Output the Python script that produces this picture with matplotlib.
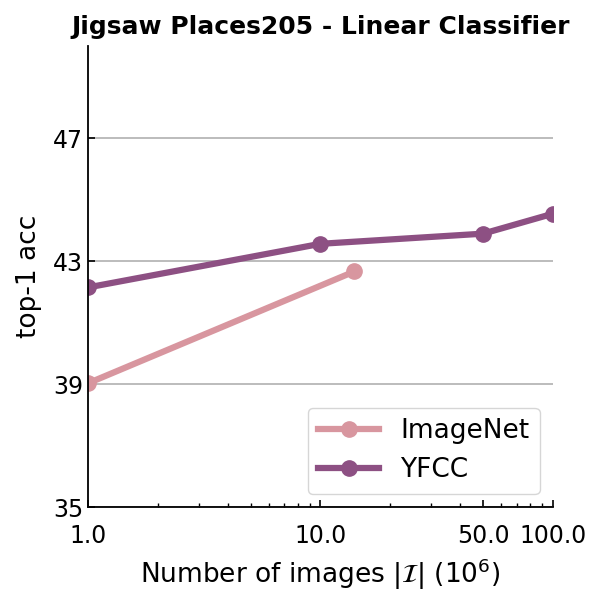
import numpy as np
from matplotlib import pyplot as plt

# data
imagenet_x = [1.0, 14.0]
imagenet_y = [39.03, 42.67]
yfcc_x = [1.0, 10.0, 50.0, 100.0]
yfcc_y = [42.15, 43.57, 43.9, 44.55]

xticks = [1, 10, 50, 100]
xtick_labels = ['1.0', '10.0', '50.0', '100.0']
yticks = [35, 39, 43, 47]

fig = plt.figure(figsize=(6.05, 6.07), dpi=100)
ax = fig.add_axes([0.1455, 0.1647, 0.7685, 0.759])

ax.plot(imagenet_x, imagenet_y, '-o', color='#d8969f', lw=4.5, ms=11, label='ImageNet')
ax.plot(yfcc_x, yfcc_y, '-o', color='#8d5083', lw=4.5, ms=11, label='YFCC')

ax.set_xscale('log')
ax.set_xlim(1, 100)
ax.set_ylim(35, 50)
ax.set_xticks(xticks)
ax.set_xticklabels(xtick_labels)
ax.set_yticks(yticks)
ax.yaxis.grid(True, color='#b0b0b0', lw=1.2)
ax.set_axisbelow(True)
ax.tick_params(direction='in', labelsize=17, length=5, width=1.2)
ax.tick_params(axis='x', pad=12)
ax.tick_params(which='minor', direction='in', length=3, width=1)

for s in ['top', 'right']:
    ax.spines[s].set_visible(False)
for s in ['left', 'bottom']:
    ax.spines[s].set_linewidth(1.3)

ax.set_title('Jigsaw Places205 - Linear Classifier', fontsize=18, fontweight='bold', pad=9)
ax.set_xlabel(r'Number of images $|\mathcal{I}|$ ($10^6$)', fontsize=19, labelpad=6)
ax.set_ylabel('top-1 acc', fontsize=19, labelpad=8)
ax.legend(loc='lower right', fontsize=19, handlelength=2.3)

fig.savefig('out.png', dpi=100)
